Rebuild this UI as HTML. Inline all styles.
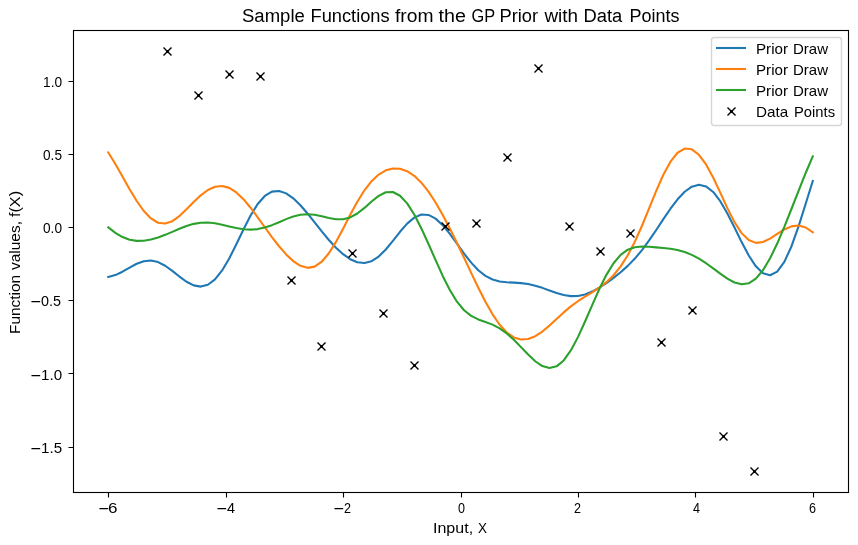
<!DOCTYPE html>
<html><head><meta charset="utf-8"><title>Sample Functions from the GP Prior with Data Points</title>
<style>
html,body{margin:0;padding:0;background:#fff;overflow:hidden}
svg{display:block;will-change:transform}
text{font-family:"Liberation Sans",sans-serif;fill:#000;white-space:pre}
</style></head><body>
<svg width="858" height="545" viewBox="0 0 858 545">
<rect x="0" y="0" width="858" height="545" fill="#ffffff"/>
<g fill="none" stroke-width="2.083" stroke-linejoin="round" stroke-linecap="square">
<polyline stroke="#1f77b4" points="108.25,277.09 115.36,275.11 122.48,271.69 129.60,267.59 136.71,263.77 143.83,261.17 150.95,260.49 158.06,262.07 165.18,265.73 172.30,270.87 179.41,276.55 186.53,281.73 193.65,285.38 200.76,286.61 207.88,284.75 215.00,279.38 222.11,270.47 229.23,258.45 236.35,244.30 243.46,229.46 250.58,215.56 257.70,204.06 264.81,195.96 271.93,191.64 279.05,190.94 286.16,193.38 293.28,198.35 300.40,205.24 307.51,213.45 314.63,222.37 321.75,231.41 328.86,240.00 335.98,247.72 343.10,254.21 350.21,259.17 357.33,262.25 364.45,263.04 371.56,261.17 378.68,256.55 385.80,249.50 392.91,240.84 400.03,231.77 407.15,223.62 414.26,217.61 421.38,214.58 428.50,214.95 435.61,218.63 442.73,225.19 449.85,233.84 456.96,243.63 464.08,253.54 471.19,262.64 478.31,270.20 485.43,275.81 492.54,279.45 499.66,281.42 506.78,282.28 513.89,282.65 521.01,283.12 528.13,284.06 535.24,285.67 542.36,287.87 549.48,290.43 556.59,292.96 563.71,295.00 570.83,296.11 577.94,295.97 585.06,294.42 592.18,291.57 599.29,287.68 606.41,283.06 613.53,277.91 620.64,272.25 627.76,265.89 634.88,258.56 641.99,250.08 649.11,240.45 656.23,229.98 663.34,219.18 670.46,208.72 677.58,199.33 684.69,191.74 691.81,186.66 698.93,184.71 706.04,186.40 713.16,191.96 720.28,201.20 727.39,213.45 734.51,227.56 741.63,242.10 748.74,255.52 755.86,266.35 762.98,273.29 770.09,275.29 777.21,271.60 784.33,261.89 791.44,246.46 798.56,226.42 805.68,203.75 812.79,181.03"/>
<polyline stroke="#ff7f0e" points="108.25,152.44 115.36,164.00 122.48,176.59 129.60,189.24 136.71,201.01 143.83,211.02 150.95,218.47 158.06,222.76 165.18,223.59 172.30,221.16 179.41,216.08 186.53,209.35 193.65,202.07 200.76,195.32 207.88,189.99 215.00,186.73 222.11,185.97 229.23,187.88 236.35,192.40 243.46,199.20 250.58,207.71 257.70,217.29 264.81,227.26 271.93,237.06 279.05,246.24 286.16,254.40 293.28,261.12 300.40,265.83 307.51,267.86 314.63,266.61 321.75,261.72 328.86,253.27 335.98,241.89 343.10,228.64 350.21,214.82 357.33,201.71 364.45,190.30 371.56,181.17 378.68,174.53 385.80,170.34 392.91,168.45 400.03,168.74 407.15,171.18 414.26,175.80 421.38,182.64 428.50,191.61 435.61,202.50 442.73,214.94 449.85,228.54 456.96,242.94 464.08,257.82 471.19,272.89 478.31,287.73 485.43,301.77 492.54,314.33 499.66,324.74 506.78,332.51 513.89,337.43 521.01,339.52 528.13,339.00 535.24,336.20 542.36,331.54 549.48,325.58 556.59,318.98 563.71,312.42 570.83,306.42 577.94,301.22 585.06,296.67 592.18,292.35 599.29,287.70 606.41,282.18 613.53,275.25 620.64,266.43 627.76,255.30 634.88,241.66 641.99,225.75 649.11,208.36 656.23,190.82 663.34,174.75 670.46,161.68 677.58,152.75 684.69,148.57 691.81,149.32 698.93,154.79 706.04,164.49 713.16,177.54 720.28,192.66 727.39,208.13 734.51,222.15 741.63,233.13 748.74,240.09 755.86,242.85 762.98,241.98 770.09,238.57 777.21,233.95 784.33,229.48 791.44,226.37 798.56,225.54 805.68,227.50 812.79,232.23"/>
<polyline stroke="#2ca02c" points="108.25,227.35 115.36,232.88 122.48,237.09 129.60,239.73 136.71,240.85 143.83,240.68 150.95,239.47 158.06,237.46 165.18,234.85 172.30,231.85 179.41,228.77 186.53,225.98 193.65,223.86 200.76,222.69 207.88,222.54 215.00,223.32 222.11,224.75 229.23,226.47 236.35,228.09 243.46,229.24 250.58,229.65 257.70,229.10 264.81,227.56 271.93,225.14 279.05,222.18 286.16,219.13 293.28,216.51 300.40,214.77 307.51,214.19 314.63,214.76 321.75,216.20 328.86,217.94 335.98,219.23 343.10,219.27 350.21,217.44 357.33,213.53 364.45,207.91 371.56,201.54 378.68,195.83 385.80,192.26 392.91,192.01 400.03,195.72 407.15,203.40 414.26,214.56 421.38,228.40 428.50,243.95 435.61,260.16 442.73,275.91 449.85,290.06 456.96,301.67 464.08,310.23 471.19,315.89 478.31,319.40 485.43,321.93 492.54,324.61 499.66,328.32 506.78,333.43 513.89,339.85 521.01,347.14 528.13,354.58 535.24,361.26 542.36,366.12 549.48,368.11 556.59,366.35 563.71,360.43 570.83,350.46 577.94,337.12 585.06,321.54 592.18,305.06 599.29,289.08 606.41,274.83 613.53,263.27 620.64,254.91 627.76,249.71 634.88,247.18 641.99,246.47 649.11,246.75 656.23,247.35 663.34,248.03 670.46,248.84 677.58,250.07 684.69,252.02 691.81,254.87 698.93,258.65 706.04,263.23 713.16,268.37 720.28,273.69 727.39,278.65 734.51,282.50 741.63,284.34 748.74,283.27 755.86,278.65 762.98,270.24 770.09,258.32 777.21,243.57 784.33,226.84 791.44,209.00 798.56,190.80 805.68,172.98 812.79,156.36"/>
</g>
<path d="M163.50,47.50L171.50,55.50M163.50,55.50L171.50,47.50M194.50,91.50L202.50,99.50M194.50,99.50L202.50,91.50M225.50,70.50L233.50,78.50M225.50,78.50L233.50,70.50M256.50,72.50L264.50,80.50M256.50,80.50L264.50,72.50M287.50,276.50L295.50,284.50M287.50,284.50L295.50,276.50M317.50,342.50L325.50,350.50M317.50,350.50L325.50,342.50M348.50,249.50L356.50,257.50M348.50,257.50L356.50,249.50M379.50,309.50L387.50,317.50M379.50,317.50L387.50,309.50M410.50,361.50L418.50,369.50M410.50,369.50L418.50,361.50M441.50,222.50L449.50,230.50M441.50,230.50L449.50,222.50M472.50,219.50L480.50,227.50M472.50,227.50L480.50,219.50M503.50,153.50L511.50,161.50M503.50,161.50L511.50,153.50M534.50,64.50L542.50,72.50M534.50,72.50L542.50,64.50M565.50,222.50L573.50,230.50M565.50,230.50L573.50,222.50M596.50,247.50L604.50,255.50M596.50,255.50L604.50,247.50M626.50,229.50L634.50,237.50M626.50,237.50L634.50,229.50M657.50,338.50L665.50,346.50M657.50,346.50L665.50,338.50M688.50,306.50L696.50,314.50M688.50,314.50L696.50,306.50M719.50,432.50L727.50,440.50M719.50,440.50L727.50,432.50M750.50,467.50L758.50,475.50M750.50,475.50L758.50,467.50" stroke="#000" stroke-width="1.389" fill="none"/>
<path d="M166.0,51.5h3M167.5,50.0v3M197.0,95.5h3M198.5,94.0v3M228.0,74.5h3M229.5,73.0v3M259.0,76.5h3M260.5,75.0v3M290.0,280.5h3M291.5,279.0v3M320.0,346.5h3M321.5,345.0v3M351.0,253.5h3M352.5,252.0v3M382.0,313.5h3M383.5,312.0v3M413.0,365.5h3M414.5,364.0v3M444.0,226.5h3M445.5,225.0v3M475.0,223.5h3M476.5,222.0v3M506.0,157.5h3M507.5,156.0v3M537.0,68.5h3M538.5,67.0v3M568.0,226.5h3M569.5,225.0v3M599.0,251.5h3M600.5,250.0v3M629.0,233.5h3M630.5,232.0v3M660.0,342.5h3M661.5,341.0v3M691.0,310.5h3M692.5,309.0v3M722.0,436.5h3M723.5,435.0v3M753.0,471.5h3M754.5,470.0v3" stroke="#000" stroke-width="1" stroke-opacity="0.9" fill="none"/>
<path d="M108.5,492.5V497.5M226.5,492.5V497.5M343.5,492.5V497.5M461.5,492.5V497.5M578.5,492.5V497.5M695.5,492.5V497.5M813.5,492.5V497.5M68.5,81.5H73.5M68.5,154.5H73.5M68.5,227.5H73.5M68.5,300.5H73.5M68.5,373.5H73.5M68.5,447.5H73.5" stroke="#000" stroke-width="1.111" fill="none"/>
<rect x="73.5" y="30.5" width="775" height="462" fill="none" stroke="#000" stroke-width="1.111"/>
<rect x="711.5" y="37.5" width="130" height="88" rx="2.78" ry="2.78" fill="#ffffff" fill-opacity="0.8" stroke="#cccccc" stroke-opacity="0.8" stroke-width="1.389"/>
<path d="M716,48H746" stroke="#1f77b4" stroke-width="2.083" fill="none"/>
<path d="M716,69H746" stroke="#ff7f0e" stroke-width="2.083" fill="none"/>
<path d="M716,90H746" stroke="#2ca02c" stroke-width="2.083" fill="none"/>
<path d="M727.50,107.50L735.50,115.50M727.50,115.50L735.50,107.50" stroke="#000" stroke-width="1.389" fill="none"/>
<path d="M730.0,111.5h3M731.5,110.0v3" stroke="#000" stroke-width="1" stroke-opacity="0.9" fill="none"/>
<path d="M99.47,508h8.69v1.13h-8.69zM217.47,508h8.69v1.13h-8.69zM334.47,508h8.69v1.13h-8.69zM31.47,301h8.69v1.13h-8.69zM31.47,375h8.69v1.13h-8.69zM31.47,448h8.69v1.13h-8.69z" fill="#000"/>
<text x="242.00" y="21.60" font-size="17.6" textLength="62.83" lengthAdjust="spacingAndGlyphs">Sample</text>
<text x="310.50" y="21.60" font-size="17.6" textLength="79.16" lengthAdjust="spacingAndGlyphs">Functions</text>
<text x="395.00" y="21.60" font-size="17.6" textLength="38.50" lengthAdjust="spacingAndGlyphs">from</text>
<text x="438.50" y="21.60" font-size="17.6" textLength="27.39" lengthAdjust="spacingAndGlyphs">the</text>
<text x="471.50" y="21.60" font-size="17.6" textLength="23.60" lengthAdjust="spacingAndGlyphs">GP</text>
<text x="499.50" y="21.60" font-size="17.6" textLength="38.61" lengthAdjust="spacingAndGlyphs">Prior</text>
<text x="544.50" y="21.60" font-size="17.6" textLength="33.55" lengthAdjust="spacingAndGlyphs">with</text>
<text x="583.50" y="21.60" font-size="17.6" textLength="38.76" lengthAdjust="spacingAndGlyphs">Data</text>
<text x="629.50" y="21.60" font-size="17.6" textLength="50.00" lengthAdjust="spacingAndGlyphs">Points</text>
<text x="433.00" y="533.10" font-size="14.3" textLength="40.11" lengthAdjust="spacingAndGlyphs">Input,</text>
<text x="478.00" y="533.10" font-size="14.3" textLength="9.00" lengthAdjust="spacingAndGlyphs">X</text>
<text x="108.00" y="513.00" font-size="14.3" textLength="9.48" lengthAdjust="spacingAndGlyphs">6</text>
<text x="227.00" y="513.00" font-size="14.3" textLength="8.00" lengthAdjust="spacingAndGlyphs">4</text>
<text x="344.00" y="513.00" font-size="14.3" textLength="7.00" lengthAdjust="spacingAndGlyphs">2</text>
<text x="458.00" y="513.00" font-size="14.3" textLength="7.00" lengthAdjust="spacingAndGlyphs">0</text>
<text x="574.00" y="513.00" font-size="14.3" textLength="7.00" lengthAdjust="spacingAndGlyphs">2</text>
<text x="693.00" y="513.00" font-size="14.3" textLength="7.00" lengthAdjust="spacingAndGlyphs">4</text>
<text x="809.00" y="513.00" font-size="14.3" textLength="7.00" lengthAdjust="spacingAndGlyphs">6</text>
<text x="43.00" y="87.00" font-size="14.3" textLength="19.06" lengthAdjust="spacingAndGlyphs">1.0</text>
<text x="43.00" y="160.00" font-size="14.3" textLength="19.00" lengthAdjust="spacingAndGlyphs">0.5</text>
<text x="43.00" y="233.00" font-size="14.3" textLength="19.00" lengthAdjust="spacingAndGlyphs">0.0</text>
<text x="41.00" y="306.00" font-size="14.3" textLength="20.00" lengthAdjust="spacingAndGlyphs">0.5</text>
<text x="41.00" y="380.00" font-size="14.3" textLength="21.05" lengthAdjust="spacingAndGlyphs">1.0</text>
<text x="41.00" y="453.00" font-size="14.3" textLength="21.05" lengthAdjust="spacingAndGlyphs">1.5</text>
<text x="756.00" y="54.00" font-size="14.3" textLength="32.03" lengthAdjust="spacingAndGlyphs">Prior</text>
<text x="793.00" y="54.00" font-size="14.3" textLength="35.03" lengthAdjust="spacingAndGlyphs">Draw</text>
<text x="756.00" y="75.00" font-size="14.3" textLength="32.03" lengthAdjust="spacingAndGlyphs">Prior</text>
<text x="793.00" y="75.00" font-size="14.3" textLength="35.03" lengthAdjust="spacingAndGlyphs">Draw</text>
<text x="756.00" y="96.00" font-size="14.3" textLength="32.03" lengthAdjust="spacingAndGlyphs">Prior</text>
<text x="793.00" y="96.00" font-size="14.3" textLength="35.03" lengthAdjust="spacingAndGlyphs">Draw</text>
<text x="756.00" y="117.00" font-size="14.3" textLength="32.25" lengthAdjust="spacingAndGlyphs">Data</text>
<text x="794.00" y="117.00" font-size="14.3" textLength="41.03" lengthAdjust="spacingAndGlyphs">Points</text>
<text transform="translate(20.00,334.00) rotate(-90)" font-size="14.3" textLength="59.07" lengthAdjust="spacingAndGlyphs">Function</text>
<text transform="translate(20.00,270.00) rotate(-90)" font-size="14.3" textLength="49.02" lengthAdjust="spacingAndGlyphs">values,</text>
<text transform="translate(20.00,217.00) rotate(-90)" font-size="14.3" textLength="26.04" lengthAdjust="spacingAndGlyphs">f(X)</text>
</svg></body></html>
